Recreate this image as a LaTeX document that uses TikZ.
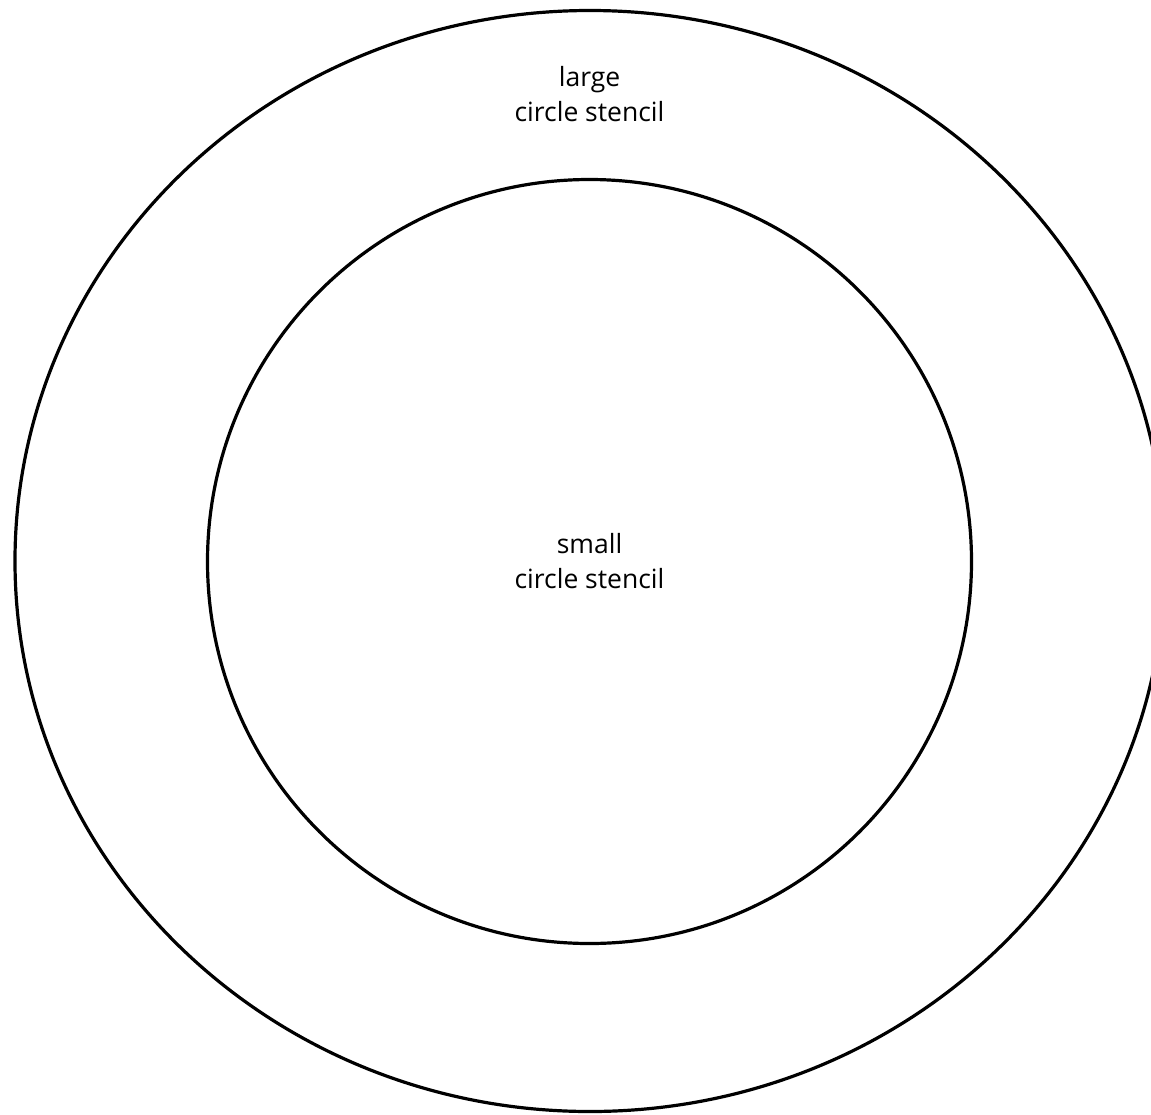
\documentclass[tikz,border=0pt]{standalone}
\usepackage{fontspec}
\setmainfont{Open Sans}
\begin{document}
\begin{tikzpicture}[x=1pt,y=-1pt,
  stencil/.style={line width=3.2pt,draw=black},
  lbl/.style={align=center,font=\fontsize{26.5}{35}\selectfont,inner sep=0pt}]
\useasboundingbox (0,0) rectangle (1151,1114);
\clip (0,0) rectangle (1151,1114);
\fill[white] (0,0) rectangle (1151,1114);
\draw[stencil] (590,561) ellipse [x radius=575, y radius=550.5];
\draw[stencil] (589.5,561.5) circle [radius=382];
\node[lbl] (large) at (589.5,94) {large\\circle stencil};
\node[lbl] (small) at (589.5,561) {small\\circle stencil};
\end{tikzpicture}
\end{document}
